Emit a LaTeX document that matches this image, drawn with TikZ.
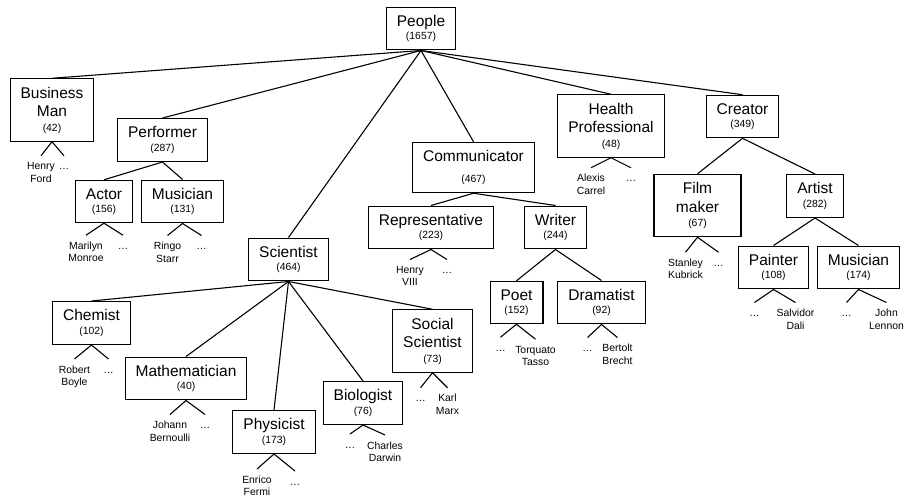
\documentclass[tikz,border=0pt]{standalone}
\usepackage{fontspec}
\setmainfont{Liberation Sans}
\usepackage{tikz}
\usetikzlibrary{positioning}
\newcommand{\numof}[1]{{\fontsize{10.4pt}{12pt}\selectfont(#1)}}

\begin{document}
\begin{tikzpicture}[
    x=1pt, y=-1pt,
    catbox/.style={draw, rectangle, line width=1.1pt, inner xsep=10.5pt, inner ysep=8pt, align=center, font=\fontsize{15.5pt}{18.5pt}\selectfont},
    leaf/.style={align=center, inner xsep=1pt, inner ysep=6.5pt, font=\fontsize{10.4pt}{12.5pt}\selectfont},
    more/.style={leaf, text height=7.5pt},
    edge/.style={line width=1.1pt}
]
\useasboundingbox (0,0) rectangle (904,498);

% categories
\node[catbox] (people) at (421,28.5) {People\\[-5pt]\numof{1657}};
\node[catbox] (busman) at (52,110) {Business\\Man\\[-4pt]\numof{42}};
\node[catbox] (performer) at (162.5,140) {Performer\\[-5pt]\numof{287}};
\node[catbox] (actor) at (104,201.5) {Actor\\[-5pt]\numof{156}};
\node[catbox] (musicianA) at (182.5,201.5) {Musician\\[-5pt]\numof{131}};
\node[catbox] (scientist) at (288.5,259.5) {Scientist\\[-5pt]\numof{464}};
\node[catbox] (chemist) at (91.5,323) {Chemist\\[-5pt]\numof{102}};
\node[catbox] (mathematician) at (186,378.5) {Mathematician\\[-5pt]\numof{40}};
\node[catbox] (physicist) at (274,432) {Physicist\\[-5pt]\numof{173}};
\node[catbox] (biologist) at (363,403) {Biologist\\[-5pt]\numof{76}};
\node[catbox] (socsci) at (432.5,341) {Social\\Scientist\\[-4pt]\numof{73}};
\node[catbox] (communicator) at (473.5,167.5) {Communicator\\[2.5pt]\numof{467}};
\node[catbox] (representative) at (431,227.5) {Representative\\[-5pt]\numof{223}};
\node[catbox] (writer) at (555.5,227.5) {Writer\\[-5pt]\numof{244}};
\node[catbox] (poet) at (516.5,302.5) {Poet\\[-5pt]\numof{152}};
\node[catbox] (dramatist) at (601.5,302.5) {Dramatist\\[-5pt]\numof{92}};
\node[catbox] (health) at (611,126) {Health\\Professional\\[-4pt]\numof{48}};
\node[catbox] (creator) at (742.5,116.5) {Creator\\[-5pt]\numof{349}};
\node[catbox, minimum width=87pt] (filmmaker) at (697.5,205.5) {Film\\maker\\[-4pt]\numof{67}};
\node[catbox] (artist) at (815,196) {Artist\\[-5pt]\numof{282}};
\node[catbox] (painter) at (773.5,267.5) {Painter\\[-5pt]\numof{108}};
\node[catbox] (musicianB) at (858.5,267.5) {Musician\\[-5pt]\numof{174}};

% examples
\node[leaf, below=14pt of busman.south, xshift=-11pt] (ford) {Henry\\Ford};
\node[more, below=14pt of busman.south, xshift=12pt] (busmanetc) {…};
\node[leaf, below=12pt of actor.south, xshift=-18pt] (monroe) {Marilyn\\Monroe};
\node[more, below=12pt of actor.south, xshift=19pt] (actoretc) {…};
\node[leaf, below=12pt of musicianA.south, xshift=-15pt] (starr) {Ringo\\Starr};
\node[more, below=12pt of musicianA.south, xshift=19pt] (musicianAetc) {…};
\node[leaf, below=10pt of representative.south, xshift=-21pt] (henry) {Henry\\VIII};
\node[more, below=10pt of representative.south, xshift=16pt] (representativeetc) {…};
\node[leaf, below=10pt of health.south, xshift=-20pt] (carrel) {Alexis\\Carrel};
\node[more, below=10pt of health.south, xshift=20pt] (healthetc) {…};
\node[leaf, below=15pt of filmmaker.south, xshift=-12pt] (kubrick) {Stanley\\Kubrick};
\node[more, below=15pt of filmmaker.south, xshift=21pt] (filmmakeretc) {…};
\node[leaf, below=14pt of chemist.south, xshift=-17pt] (boyle) {Robert\\Boyle};
\node[more, below=14pt of chemist.south, xshift=17pt] (chemistetc) {…};
\node[leaf, below=14pt of mathematician.south, xshift=-16pt] (bernoulli) {Johann\\Bernoulli};
\node[more, below=14pt of mathematician.south, xshift=19pt] (mathematicianetc) {…};
\node[leaf, below=15pt of physicist.south, xshift=-17pt] (fermi) {Enrico\\Fermi};
\node[more, below=17pt of physicist.south, xshift=21pt] (physicistetc) {…};
\node[more, below=9pt of biologist.south, xshift=-13pt] (biologistetc) {…};
\node[leaf, below=10pt of biologist.south, xshift=22pt] (darwin) {Charles\\Darwin};
\node[more, below=15pt of socsci.south, xshift=-12pt] (socscietc) {…};
\node[leaf, below=15pt of socsci.south, xshift=15pt] (marx) {Karl\\Marx};
\node[more, below=13pt of poet.south, xshift=-16pt] (poetetc) {…};
\node[leaf, below=15pt of poet.south, xshift=19pt] (tasso) {Torquato\\Tasso};
\node[more, below=13pt of dramatist.south, xshift=-14pt] (dramatistetc) {…};
\node[leaf, below=13pt of dramatist.south, xshift=16pt] (brecht) {Bertolt\\Brecht};
\node[more, below=13pt of painter.south, xshift=-19pt] (painteretc) {…};
\node[leaf, below=13pt of painter.south, xshift=22pt] (dali) {Salvidor\\Dali};
\node[more, below=13pt of musicianB.south, xshift=-12pt] (musicianBetc) {…};
\node[leaf, below=13pt of musicianB.south, xshift=28pt] (lennon) {John\\Lennon};

% hierarchy
\foreach \kid in {busman,performer,scientist,communicator,health,creator}
    \draw[edge] (people.south) -- (\kid.north);
\foreach \kid in {actor,musicianA}
    \draw[edge] (performer.south) -- (\kid.north);
\foreach \kid in {chemist,mathematician,physicist,biologist,socsci}
    \draw[edge] (scientist.south) -- (\kid.north);
\foreach \kid in {representative,writer}
    \draw[edge] (communicator.south) -- (\kid.north);
\foreach \kid in {poet,dramatist}
    \draw[edge] (writer.south) -- (\kid.north);
\foreach \kid in {filmmaker,artist}
    \draw[edge] (creator.south) -- (\kid.north);
\foreach \kid in {painter,musicianB}
    \draw[edge] (artist.south) -- (\kid.north);

% forks to examples
\foreach \parent/\lhs/\rhs in {busman/ford/busmanetc, actor/monroe/actoretc, musicianA/starr/musicianAetc,
    representative/henry/representativeetc, health/carrel/healthetc, filmmaker/kubrick/filmmakeretc,
    chemist/boyle/chemistetc, mathematician/bernoulli/mathematicianetc, physicist/fermi/physicistetc,
    biologist/biologistetc/darwin, socsci/socscietc/marx, poet/poetetc/tasso, dramatist/dramatistetc/brecht,
    painter/painteretc/dali, musicianB/musicianBetc/lennon}
    \draw[edge] (\lhs.north) -- (\parent.south) -- (\rhs.north);
\end{tikzpicture}
\end{document}
